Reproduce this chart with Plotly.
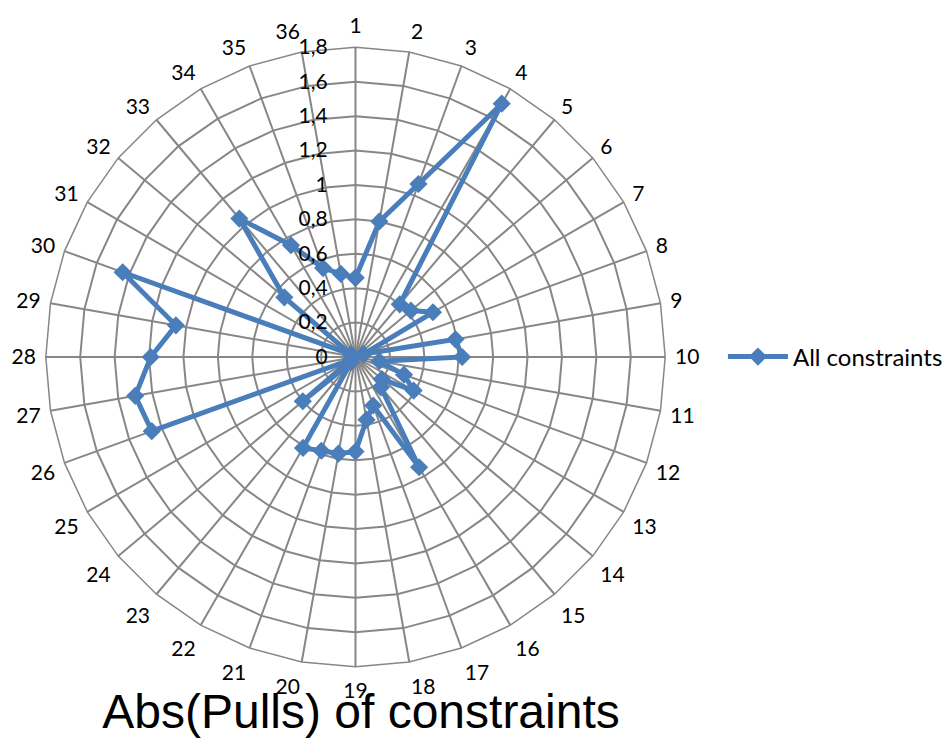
import plotly.graph_objects as go

# Constraint indices around the radar and their absolute pulls
categories = [str(i) for i in range(1, 37)]
abs_pulls = [
    0.46, 0.80, 1.07, 1.70, 0.40, 0.42, 0.52, 0.05, 0.59, 0.62,
    0.14, 0.30, 0.39, 0.20, 0.23, 0.74, 0.30, 0.37, 0.55, 0.57,
    0.58, 0.61, 0.04, 0.40, 0.03, 1.26, 1.30, 1.19, 1.06, 1.44,
    0.03, 0.54, 1.05, 0.75, 0.55, 0.49,
]
series_name = "All constraints"
chart_title = "Abs(Pulls) of constraints"
radial_ticks = [0, 0.2, 0.4, 0.6, 0.8, 1.0, 1.2, 1.4, 1.6, 1.8]

W, H = 948, 742
cx, cy, R = 357, 357, 311
grid = "#878787"
blue = "#4A7EBB"
label_font = dict(family="Lato, Open Sans, sans-serif", size=21, color="black")

fig = go.Figure()
fig.add_trace(go.Scatterpolar(
    r=abs_pulls + abs_pulls[:1],
    theta=categories + categories[:1],
    mode="lines+markers",
    name=series_name,
    line=dict(color=blue, width=5),
    marker=dict(symbol="diamond", size=14, color=blue),
))

fig.update_layout(
    width=W, height=H,
    margin=dict(l=0, r=0, t=0, b=0),
    paper_bgcolor="white",
    separators=", ",
    showlegend=True,
    legend=dict(
        x=726 / W, y=1 - cy / H, xanchor="left", yanchor="middle",
        font=dict(family="Lato, Open Sans, sans-serif", size=24, color="black"),
        bgcolor="rgba(0,0,0,0)",
        itemwidth=60,
    ),
    title=dict(
        text=chart_title,
        x=361 / W, xanchor="center",
        y=1 - 711 / H, yanchor="middle",
        font=dict(family="Liberation Sans, Arial, sans-serif", size=48, color="black"),
    ),
    polar=dict(
        domain=dict(x=[(cx - R) / W, (cx + R) / W],
                    y=[1 - (cy + R) / H, 1 - (cy - R) / H]),
        bgcolor="white",
        gridshape="linear",
        angularaxis=dict(
            type="category",
            categoryorder="array",
            categoryarray=categories,
            rotation=90,
            direction="clockwise",
            showline=True, linecolor=grid, linewidth=1.5,
            showgrid=True, gridcolor=grid, gridwidth=1.5,
            ticks="outside", ticklen=5, tickcolor="rgba(0,0,0,0)",
            tickfont=label_font,
        ),
        radialaxis=dict(
            range=[0, 1.8],
            tickvals=radial_ticks,
            angle=90,
            tickangle=90,
            side="counterclockwise",
            showline=False,
            showgrid=True, gridcolor=grid, gridwidth=1.5,
            ticks="outside", ticklen=20, tickcolor="rgba(0,0,0,0)",
            tickfont=label_font,
        ),
    ),
)

fig.write_html("out.html")
